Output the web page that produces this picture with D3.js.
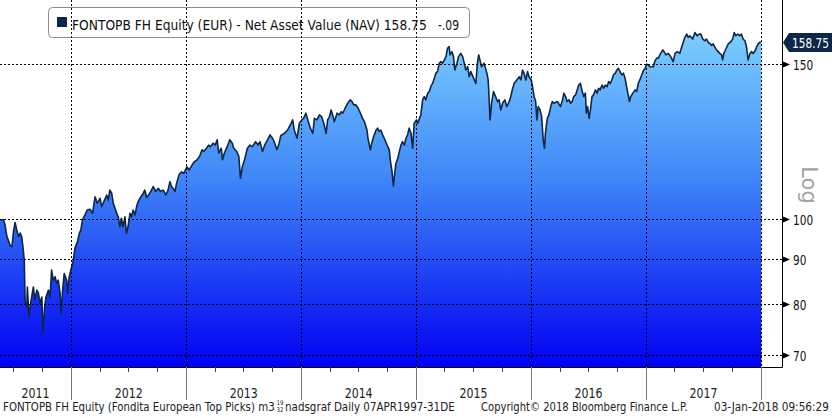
<!DOCTYPE html>
<html><head><meta charset="utf-8">
<script src="https://cdn.jsdelivr.net/npm/d3@7"></script>
<style>body{margin:0;background:#fff}svg{display:block}</style>
</head><body>
<svg id="c" width="832" height="418"></svg>
<script>
// ---------- data ----------
const dates2011 = ["2011-05-20","2011-05-31","2011-06-05","2011-06-11","2011-06-21","2011-06-27","2011-07-02","2011-07-07","2011-07-13","2011-07-18","2011-07-23","2011-07-28","2011-08-02","2011-08-05","2011-08-08","2011-08-13","2011-08-15","2011-08-20","2011-08-26","2011-09-03","2011-09-08","2011-09-14","2011-09-19","2011-09-24","2011-09-30","2011-10-03","2011-10-08","2011-10-13","2011-10-21","2011-10-26","2011-10-31","2011-11-05","2011-11-11","2011-11-16","2011-11-21","2011-11-27","2011-11-30","2011-12-05","2011-12-10","2011-12-18","2011-12-21","2011-12-26"];
const nav2011 = [99.7,99.7,98.4,95.4,93.3,92.9,96.8,99.0,96.8,95.4,96.3,95.4,92.1,89.7,80.1,79.3,83.6,77.3,80.4,83.6,80.8,82.9,82.3,80.1,81.4,74.1,78.7,81.4,82.9,81.4,87.4,85.1,85.9,84.4,85.1,82.2,78.0,82.9,86.6,85.1,82.2,85.9];

const dates2012 = ["2012-01-03","2012-01-08","2012-01-13","2012-01-21","2012-01-27","2012-02-01","2012-02-06","2012-02-14","2012-02-21","2012-03-01","2012-03-09","2012-03-17","2012-03-24","2012-04-02","2012-04-07","2012-04-14","2012-04-23","2012-04-28","2012-05-03","2012-05-09","2012-05-14","2012-05-25","2012-05-30","2012-06-04","2012-06-09","2012-06-14","2012-06-20","2012-06-25","2012-06-30","2012-07-06","2012-07-11","2012-07-16","2012-07-22","2012-07-27","2012-08-01","2012-08-07","2012-08-17","2012-08-22","2012-08-28","2012-09-07","2012-09-18","2012-09-26","2012-10-04","2012-10-11","2012-10-20","2012-10-28","2012-11-04","2012-11-10","2012-11-15","2012-11-20","2012-11-26","2012-12-01","2012-12-09","2012-12-17","2012-12-24"];
const nav2012 = [88.2,89.7,92.5,94.1,96.2,97.1,99.7,101.0,102.3,102.5,101.4,105.9,104.1,105.5,103.2,104.6,106.4,105.0,107.8,106.9,104.1,101.4,100.5,97.9,100.1,97.9,100.5,96.2,97.9,101.4,100.5,102.3,101.0,103.2,104.6,105.5,106.9,107.8,105.7,106.9,108.8,107.4,108.3,107.4,107.8,106.4,107.8,110.2,108.8,108.3,107.4,109.7,112.2,113.1,112.6];

const dates2013 = ["2013-01-03","2013-01-10","2013-01-19","2013-01-26","2013-02-04","2013-02-12","2013-02-20","2013-02-25","2013-03-06","2013-03-13","2013-03-18","2013-03-27","2013-04-03","2013-04-09","2013-04-14","2013-04-22","2013-04-26","2013-05-02","2013-05-11","2013-05-19","2013-05-27","2013-06-01","2013-06-10","2013-06-17","2013-06-22","2013-06-28","2013-07-05","2013-07-14","2013-07-22","2013-07-30","2013-08-09","2013-08-17","2013-08-23","2013-08-31","2013-09-07","2013-09-16","2013-09-24","2013-10-02","2013-10-07","2013-10-16","2013-10-23","2013-10-28","2013-11-08","2013-11-19","2013-11-30","2013-12-05","2013-12-10","2013-12-19","2013-12-26"];
const nav2013 = [114.6,113.6,115.1,116.1,116.7,117.7,119.8,119.3,120.3,121.3,120.8,121.9,121.3,123.0,118.8,120.3,116.7,118.8,120.8,123.0,121.9,120.3,119.3,117.7,111.2,114.6,116.7,120.3,121.3,120.8,122.4,121.3,122.4,119.3,121.3,123.0,124.6,123.5,122.4,119.8,121.9,124.3,125.1,126.2,128.4,129.6,126.2,123.5,128.4];

const dates2014 = ["2014-01-03","2014-01-09","2014-01-16","2014-01-22","2014-01-30","2014-02-07","2014-02-12","2014-02-20","2014-02-28","2014-03-07","2014-03-14","2014-03-21","2014-03-26","2014-04-01","2014-04-06","2014-04-11","2014-04-16","2014-04-25","2014-05-02","2014-05-08","2014-05-13","2014-05-18","2014-05-23","2014-05-29","2014-06-06","2014-06-11","2014-06-17","2014-06-24","2014-07-01","2014-07-08","2014-07-15","2014-07-21","2014-07-29","2014-08-02","2014-08-09","2014-08-13","2014-08-19","2014-08-27","2014-09-01","2014-09-06","2014-09-11","2014-09-17","2014-09-24","2014-10-01","2014-10-08","2014-10-11","2014-10-16","2014-10-21","2014-10-24","2014-10-29","2014-11-04","2014-11-09","2014-11-14","2014-11-19","2014-11-25","2014-11-30","2014-12-05","2014-12-10","2014-12-16","2014-12-21","2014-12-26"];
const nav2014 = [129.6,130.2,131.9,129.6,126.8,125.1,130.1,129.6,131.3,130.7,128.4,125.1,129.6,130.7,133.0,131.3,129.0,131.9,131.3,132.4,131.9,133.0,134.2,135.4,136.6,136.0,134.8,134.8,133.6,131.9,130.1,129.0,126.2,123.0,119.8,121.9,124.0,126.2,126.8,125.7,126.2,124.6,123.0,121.3,119.8,116.7,113.6,109.0,111.7,115.6,117.2,119.3,121.3,122.4,121.3,123.5,124.6,126.8,125.1,120.3,128.4];

const dates2015 = ["2015-01-02","2015-01-06","2015-01-14","2015-01-16","2015-01-22","2015-01-27","2015-02-01","2015-02-07","2015-02-12","2015-02-17","2015-02-23","2015-02-28","2015-03-05","2015-03-10","2015-03-16","2015-03-21","2015-03-26","2015-04-01","2015-04-06","2015-04-11","2015-04-16","2015-04-19","2015-04-25","2015-04-30","2015-05-04","2015-05-11","2015-05-16","2015-05-23","2015-05-29","2015-06-03","2015-06-08","2015-06-14","2015-06-19","2015-06-24","2015-07-03","2015-07-10","2015-07-15","2015-07-19","2015-07-23","2015-07-28","2015-08-05","2015-08-14","2015-08-18","2015-08-21","2015-08-24","2015-08-29","2015-09-04","2015-09-11","2015-09-17","2015-09-22","2015-09-27","2015-10-03","2015-10-10","2015-10-16","2015-10-24","2015-10-29","2015-11-04","2015-11-09","2015-11-17","2015-11-25","2015-11-30","2015-12-05","2015-12-10","2015-12-16","2015-12-21","2015-12-26"];
const nav2015 = [129.6,128.4,130.7,131.3,136.6,137.8,136.6,139.0,139.6,141.5,142.7,144.6,146.5,147.1,150.4,151.0,150.4,151.7,153.0,156.4,157.1,153.7,155.0,153.0,147.7,150.4,153.0,154.3,153.0,150.4,147.7,149.0,145.1,147.1,144.5,142.6,150.4,153.7,151.7,149.0,150.4,146.5,143.9,137.6,129.6,135.4,139.6,137.7,135.9,136.6,133.0,135.4,136.6,134.2,136.0,137.8,140.8,142.7,143.9,145.1,143.9,147.7,146.5,143.9,147.1,145.1];

const dates2016 = ["2016-01-02","2016-01-06","2016-01-11","2016-01-16","2016-01-20","2016-01-24","2016-01-30","2016-02-04","2016-02-09","2016-02-13","2016-02-16","2016-02-22","2016-02-27","2016-03-04","2016-03-09","2016-03-14","2016-03-25","2016-04-04","2016-04-09","2016-04-15","2016-04-20","2016-04-25","2016-05-01","2016-05-06","2016-05-11","2016-05-16","2016-05-22","2016-05-27","2016-06-01","2016-06-06","2016-06-12","2016-06-17","2016-06-22","2016-06-25","2016-06-29","2016-07-04","2016-07-08","2016-07-13","2016-07-18","2016-07-24","2016-07-29","2016-08-03","2016-08-08","2016-08-14","2016-08-19","2016-08-24","2016-08-30","2016-09-04","2016-09-09","2016-09-14","2016-09-19","2016-09-25","2016-09-30","2016-10-05","2016-10-10","2016-10-16","2016-10-21","2016-10-26","2016-11-01","2016-11-06","2016-11-09","2016-11-13","2016-11-20","2016-11-27","2016-12-02","2016-12-07","2016-12-13","2016-12-18","2016-12-23","2016-12-29"];
const nav2016 = [143.9,141.5,137.8,136.0,129.6,134.2,133.0,130.7,123.0,120.3,125.1,130.1,131.3,134.2,136.0,135.4,136.0,134.2,136.0,139.0,137.8,136.0,136.6,135.4,136.0,137.8,138.4,140.2,142.0,142.6,139.6,137.8,139.0,131.9,134.2,130.1,133.0,137.8,138.4,140.2,139.0,140.8,140.2,142.0,140.8,142.0,141.4,143.3,142.6,143.9,145.8,146.5,147.7,148.4,147.1,145.8,146.5,144.6,140.8,137.8,136.0,137.8,139.0,140.2,139.6,142.6,144.2,145.8,147.4,148.4];

const dates2017 = ["2017-01-03","2017-01-08","2017-01-13","2017-01-24","2017-01-29","2017-02-04","2017-02-09","2017-02-16","2017-02-23","2017-02-27","2017-03-05","2017-03-12","2017-03-20","2017-03-28","2017-04-03","2017-04-10","2017-04-18","2017-04-24","2017-04-29","2017-05-04","2017-05-10","2017-05-15","2017-05-20","2017-05-29","2017-06-05","2017-06-12","2017-06-19","2017-06-24","2017-06-30","2017-07-07","2017-07-12","2017-07-17","2017-07-23","2017-07-28","2017-08-02","2017-08-07","2017-08-13","2017-08-18","2017-08-23","2017-08-29","2017-09-01","2017-09-05","2017-09-12","2017-09-19","2017-09-26","2017-10-03","2017-10-08","2017-10-13","2017-10-19","2017-10-26","2017-10-31","2017-11-05","2017-11-11","2017-11-16","2017-11-21","2017-11-27","2017-12-02","2017-12-07","2017-12-12","2017-12-18","2017-12-23","2017-12-28","2018-01-02"];
const nav2017 = [150.0,149.7,149.0,149.0,151.3,152.4,152.4,154.3,155.7,155.0,153.7,154.3,153.0,151.0,154.3,155.0,154.3,156.9,158.9,160.9,162.3,160.9,161.6,160.2,163.0,161.6,162.3,162.3,160.2,159.5,160.2,158.9,158.2,157.6,158.2,156.9,155.7,155.0,154.3,153.7,151.7,154.3,156.3,158.2,158.9,160.2,163.0,161.6,162.3,161.6,162.3,160.2,159.5,156.9,151.7,154.3,155.0,154.3,155.0,156.9,158.2,158.9,158.75];

const yearLabels = ["2011","2012","2013","2014","2015","2016","2017"];
const yTicks = [70, 80, 90, 100, 150];
const lastValue = 158.75;
const lastChange = "-.09";
const legendTitle = "FONTOPB FH Equity (EUR) - Net Asset Value (NAV) 158.75";

// ---------- build ----------
const allDates = [].concat(dates2011,dates2012,dates2013,dates2014,dates2015,dates2016,dates2017);
const allNav = [].concat(nav2011,nav2012,nav2013,nav2014,nav2015,nav2016,nav2017);
const parse = d3.utcParse("%Y-%m-%d");
const n = Math.min(allDates.length, allNav.length);
const data = d3.range(n).map(i => ({date: parse(allDates[i]), v: allNav[i]}));

const svg = d3.select("#c");
const plotRight = 782, plotBottom = 367, dataRight = 761;
const navy = "#0c2747";
const font = "'DejaVu Sans', Tahoma, Verdana, sans-serif";

const x = d3.scaleUtc().domain([parse(allDates[0]), parse("2018-01-01")]).range([0, dataRight]);
const y = d3.scaleLog().domain([67.76, 177.5]).range([plotBottom, 0]);

// text squeezed horizontally (Tahoma-like narrow look) via a real transform
function fitText(parent, txt, x0, y0, width, size, opts = {}) {
  const g = parent.append("g");
  const t = g.append("text").attr("x",0).attr("y",0)
    .attr("font-family",font).attr("font-size",size)
    .attr("fill",opts.fill || "#111")
    .attr("text-anchor",opts.anchor || "start").text(txt);
  const L = t.node().getComputedTextLength() || width;
  g.attr("transform",`translate(${x0},${y0}) scale(${width/L},1)`);
  return g;
}

svg.append("rect").attr("width",832).attr("height",418).attr("fill","#fff");

const defs = svg.append("defs");
const grad = defs.append("linearGradient").attr("id","fillGrad")
  .attr("gradientUnits","userSpaceOnUse").attr("x1",0).attr("y1",25).attr("x2",0).attr("y2",plotBottom);
grad.append("stop").attr("offset","0").attr("stop-color","#7fd2ff");
grad.append("stop").attr("offset","0.45").attr("stop-color","#3f86f8");
grad.append("stop").attr("offset","1").attr("stop-color","#0000f2");

// legend box (behind gridlines)
svg.append("rect").attr("x",48.5).attr("y",7.5).attr("width",421).attr("height",30).attr("rx",4)
  .attr("fill","#fff").attr("stroke","#8c8c8c");

// area + line
svg.append("path").datum(data)
  .attr("d", d3.area().x(d=>x(d.date)).y0(plotBottom).y1(d=>y(d.v)))
  .attr("fill","url(#fillGrad)");
svg.append("path").datum(data)
  .attr("d", d3.line().x(d=>x(d.date)).y(d=>y(d.v)))
  .attr("fill","none").attr("stroke",navy).attr("stroke-width",1.6).attr("stroke-linejoin","round");

// gridlines
const yearStarts = d3.utcYear.range(parse("2012-01-01"), parse("2018-01-02"));
svg.append("g").selectAll("line").data(yTicks).join("line")
  .attr("x1",0).attr("x2",plotRight+1).attr("y1",d=>Math.round(y(d))+0.5).attr("y2",d=>Math.round(y(d))+0.5)
  .attr("stroke","#000").attr("stroke-dasharray","2,2").attr("stroke-width",1);
svg.append("g").selectAll("line").data(yearStarts).join("line")
  .attr("x1",d=>Math.round(x(d))+0.5).attr("x2",d=>Math.round(x(d))+0.5).attr("y1",0).attr("y2",plotBottom)
  .attr("stroke","#000").attr("stroke-dasharray","2,2").attr("stroke-width",1);

// legend content
svg.append("rect").attr("x",57).attr("y",17).attr("width",10).attr("height",10).attr("fill",navy);
fitText(svg, legendTitle, 72, 30, 355, 14);
fitText(svg, lastChange, 438, 30, 21, 14);

// frame
svg.append("line").attr("x1",plotRight+0.5).attr("x2",plotRight+0.5).attr("y1",0).attr("y2",plotBottom+0.5)
  .attr("stroke","#000");
svg.append("line").attr("x1",0).attr("x2",plotRight+0.5).attr("y1",plotBottom+0.5).attr("y2",plotBottom+0.5)
  .attr("stroke","#000");

// right axis ticks
yTicks.forEach(t => {
  const yy = Math.round(y(t)) + 0.5;
  svg.append("path").attr("d",`M783,${yy-3}L790,${yy}L783,${yy+3}Z`).attr("fill","#000");
  fitText(svg, String(t), 793, yy+5.5, String(t).length*6.7, 14);
});

// "Log"
svg.append("text").attr("transform","translate(809,185) rotate(90)")
  .attr("text-anchor","middle").attr("dominant-baseline","central")
  .attr("font-family",font).attr("font-size",21).attr("fill","#a3a3a3").text("Log");

// last value label
const yv = y(lastValue);
svg.append("path").attr("d",`M783,${yv}L789,${yv-9.5}L832,${yv-9.5}L832,${yv+9.5}L789,${yv+9.5}Z`).attr("fill",navy);
fitText(svg, lastValue.toFixed(2), 792, yv+5, 37, 14, {fill:"#fff"});

// x axis: quarter ticks, year separators, labels
const quarters = d3.utcMonth.every(3).range(parse(allDates[0]), parse("2018-01-01"));
svg.append("g").selectAll("line").data(quarters).join("line")
  .attr("x1",d=>Math.round(x(d))+0.5).attr("x2",d=>Math.round(x(d))+0.5)
  .attr("y1",plotBottom).attr("y2",plotBottom+5).attr("stroke","#444");
svg.append("g").selectAll("line").data(yearStarts).join("line")
  .attr("x1",d=>Math.round(x(d))+0.5).attr("x2",d=>Math.round(x(d))+0.5)
  .attr("y1",plotBottom).attr("y2",400).attr("stroke","#7a7a7a");
const bounds = [0].concat(yearStarts.map(d=>x(d)));
yearLabels.forEach((lab,i) => {
  fitText(svg, lab, (bounds[i]+bounds[i+1])/2, 398, 28, 13.5, {anchor:"middle", fill:"#222"});
});

// footer
fitText(svg, "FONTOPB FH Equity (Fondita European Top Picks) m3", 3, 411, 272, 12, {fill:"#222"});
fitText(svg, "19", 276.5, 405, 7, 6.5, {fill:"#222"});
fitText(svg, "32", 276.5, 412, 7, 6.5, {fill:"#222"});
fitText(svg, "nadsgraf  Daily 07APR1997-31DE", 285, 411, 170, 12, {fill:"#222"});
fitText(svg, "Copyright\u00A9 2018 Bloomberg Finance L.P.", 481, 411, 207, 12, {fill:"#222"});
fitText(svg, "03-Jan-2018 09:56:29", 714, 411, 115, 12, {fill:"#222"});
</script>
</body></html>
